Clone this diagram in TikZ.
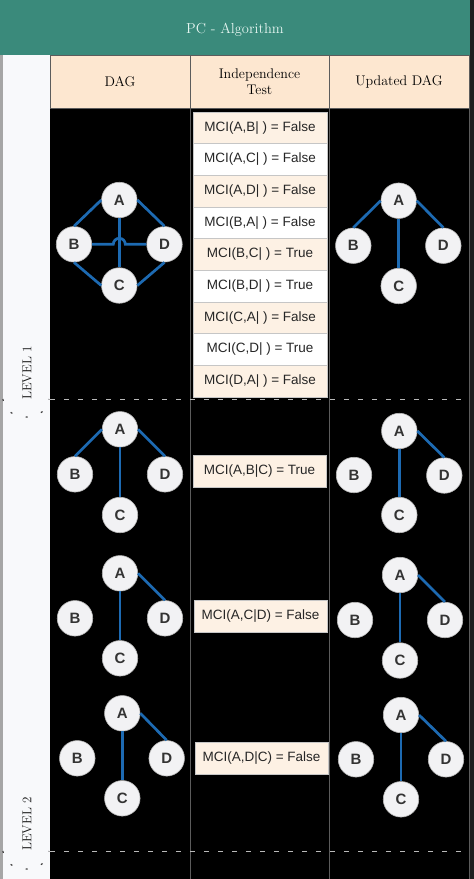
\documentclass[tikz,border=0pt]{standalone}
\usepackage{fontspec}
\newfontfamily\arialfont{Liberation Sans}
\usetikzlibrary{positioning}

\definecolor{bandgreen}{HTML}{3A8A7B}
\definecolor{titletext}{HTML}{E4F5F0}
\definecolor{headpeach}{HTML}{FDE7D0}
\definecolor{boxpeach}{HTML}{FDF1E4}
\definecolor{edgeblue}{HTML}{1D6AB2}
\definecolor{gridgray}{HTML}{5C5C5C}
\definecolor{nodefill}{HTML}{F2F2F4}
\definecolor{sidewhite}{HTML}{F8F9FB}

\begin{document}
\begin{tikzpicture}[x=1pt, y=-1pt,
    vertex/.style={circle, fill=nodefill, draw=gray!55, line width=0.6pt,
      minimum size=35.5pt, inner sep=0pt, text=black!80,
      font=\arialfont\bfseries\fontsize{15}{15}\selectfont},
    edge/.style={edgeblue, line width=2.7pt},
    headcell/.style={rectangle, fill=headpeach, draw=gridgray, line width=0.8pt,
      minimum height=53pt, inner sep=0pt, text=black, align=center,
      font=\fontsize{14}{16}\selectfont},
    testbox/.style={rectangle, draw=gray!45, line width=0.8pt,
      minimum width=134pt, minimum height=31.6pt, inner sep=0pt, text=black!85,
      font=\arialfont\fontsize{13.5}{14}\selectfont},
    levelsep/.style={gray!55, line width=1pt, dash pattern=on 5pt off 9pt},
    levelarc/.style={black!75, line width=1.2pt, dash pattern=on 2pt off 14pt},
    leveltext/.style={rotate=90, text=black!90, font=\fontsize{13}{13}\selectfont}]

    \useasboundingbox (0, 0) rectangle (474, 879);

    % frame and table body
    \fill[black!88] (0, 0) rectangle (474, 879);
    \fill[bandgreen] (0, 0) rectangle (470, 55);
    \fill[gray!70] (0, 55) rectangle (3, 879);
    \fill[sidewhite] (3, 55) rectangle (50, 879);
    \fill[black] (50, 108) rectangle (469, 879);
    \draw[gridgray, line width=0.8pt] (190, 108) -- (190, 879);
    \draw[gridgray, line width=0.8pt] (329, 108) -- (329, 879);
    \draw[gridgray, line width=1.2pt] (469.5, 55) -- (469.5, 879);

    \node[text=titletext, font=\fontsize{14.5}{14.5}\selectfont] (title) at (235, 30) {PC - Algorithm};

    \node[headcell, minimum width=140pt] (hdag) at (120, 81.5) {DAG};
    \node[headcell, minimum width=139pt] (htest) at (259.5, 81.5) {Independence\\Test};
    \node[headcell, minimum width=140pt] (hnew) at (399, 81.5) {Updated DAG};

    % level separators
    \draw[levelsep] (50, 399) -- (469, 399);
    \draw[levelsep] (50, 851) -- (469, 851);
    \draw[levelarc] (3, 399) arc[start angle=180, end angle=360, x radius=23pt, y radius=18pt];
    \draw[levelarc] (3, 851) arc[start angle=180, end angle=360, x radius=23pt, y radius=18pt];

    \node[leveltext] (lev1) at (27, 373) {LEVEL 1};
    \node[leveltext] (lev2) at (27, 824) {LEVEL 2};

    % level 1 tests
    \node[testbox, fill=boxpeach] (t1) at (260, 127.8) {MCI(A,B| ) = False};
    \node[testbox, fill=white] (t2) at (260, 159.5) {MCI(A,C| ) = False};
    \node[testbox, fill=boxpeach] (t3) at (260, 191.2) {MCI(A,D| ) = False};
    \node[testbox, fill=white] (t4) at (260, 222.8) {MCI(B,A| ) = False};
    \node[testbox, fill=boxpeach] (t5) at (260, 254.5) {MCI(B,C| ) = True};
    \node[testbox, fill=white] (t6) at (260, 286.2) {MCI(B,D| ) = True};
    \node[testbox, fill=boxpeach] (t7) at (260, 317.8) {MCI(C,A| ) = False};
    \node[testbox, fill=white] (t8) at (260, 349.5) {MCI(C,D| ) = True};
    \node[testbox, fill=boxpeach] (t9) at (260, 381.2) {MCI(D,A| ) = False};

    % level 2 tests
    \node[testbox, fill=boxpeach, minimum width=133pt] (t10) at (259.5, 471.5) {MCI(A,B|C) = True};
    \node[testbox, fill=boxpeach, minimum width=133pt] (t11) at (260.5, 616.5) {MCI(A,C|D) = False};
    \node[testbox, fill=boxpeach, minimum width=133pt] (t12) at (261.5, 758.5) {MCI(A,D|C) = False};

    % level 1, full graph
    \node[vertex] (a1) at (119.3, 200) {A};
    \node[vertex] (b1) at (74, 244.3) {B};
    \node[vertex] (d1) at (164.5, 244.3) {D};
    \node[vertex] (c1) at (119.3, 285.5) {C};
    \draw[edge] (a1.west) -- (b1.north);
    \draw[edge] (a1.east) -- (d1.north);
    \draw[edge] (b1.south) -- (c1.west);
    \draw[edge] (d1.south) -- (c1.east);
    \draw[edge] (a1.south) -- (c1.north);
    \draw[edge] (b1.east) -- ([xshift=-6pt]a1.south |- b1.east)
      arc[start angle=180, end angle=0, radius=6pt] -- (d1.west);

    % level 1, updated
    \node[vertex] (ua1) at (398.7, 200.7) {A};
    \node[vertex] (ub1) at (353.3, 245.7) {B};
    \node[vertex] (ud1) at (443.3, 245.7) {D};
    \node[vertex] (uc1) at (398.7, 286) {C};
    \draw[edge] (ua1.west) -- (ub1.north);
    \draw[edge] (ua1.east) -- (ud1.north);
    \draw[edge] (ua1.south) -- (uc1.north);

    % level 2, first test
    \node[vertex] (a2) at (120, 429.3) {A};
    \node[vertex] (b2) at (75, 474.3) {B};
    \node[vertex] (d2) at (165, 474.3) {D};
    \node[vertex] (c2) at (120, 515) {C};
    \draw[edge] (a2.west) -- (b2.north);
    \draw[edge] (a2.east) -- (d2.north);
    \draw[edge] (a2.south) -- (c2.north);

    \node[vertex] (ua2) at (399.3, 431) {A};
    \node[vertex] (ub2) at (354, 475) {B};
    \node[vertex] (ud2) at (444.3, 475.5) {D};
    \node[vertex] (uc2) at (399.3, 515) {C};
    \draw[edge] (ua2.east) -- (ud2.north);
    \draw[edge] (ua2.south) -- (uc2.north);

    % level 2, second test
    \node[vertex] (a3) at (120, 573.3) {A};
    \node[vertex] (b3) at (75, 618.3) {B};
    \node[vertex] (d3) at (165, 618.3) {D};
    \node[vertex] (c3) at (120, 658.3) {C};
    \draw[edge] (a3.east) -- (d3.north);
    \draw[edge] (a3.south) -- (c3.north);

    \node[vertex] (ua3) at (400, 575) {A};
    \node[vertex] (ub3) at (355, 620) {B};
    \node[vertex] (ud3) at (445, 620) {D};
    \node[vertex] (uc3) at (400, 660.5) {C};
    \draw[edge] (ua3.east) -- (ud3.north);
    \draw[edge] (ua3.south) -- (uc3.north);

    % level 2, third test
    \node[vertex] (a4) at (122.3, 713.3) {A};
    \node[vertex] (b4) at (77.3, 758.3) {B};
    \node[vertex] (d4) at (166.7, 758.3) {D};
    \node[vertex] (c4) at (122.3, 798.3) {C};
    \draw[edge] (a4.east) -- (d4.north);
    \draw[edge] (a4.south) -- (c4.north);

    \node[vertex] (ua4) at (401, 715) {A};
    \node[vertex] (ub4) at (356, 759.3) {B};
    \node[vertex] (ud4) at (446, 759.3) {D};
    \node[vertex] (uc4) at (401, 799.3) {C};
    \draw[edge] (ua4.east) -- (ud4.north);
    \draw[edge] (ua4.south) -- (uc4.north);

\end{tikzpicture}
\end{document}
